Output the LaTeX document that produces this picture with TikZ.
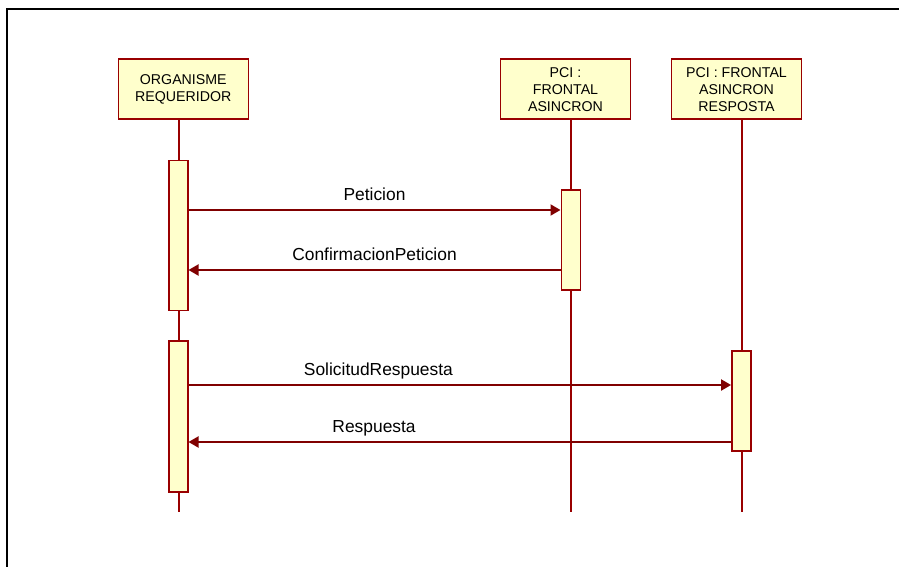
\documentclass[tikz,border=0pt]{standalone}
\usepackage{fontspec}
\setmainfont{Liberation Sans}
\usetikzlibrary{arrows.meta}
\definecolor{umlred}{RGB}{153,0,0}
\definecolor{umlline}{RGB}{128,0,0}
\definecolor{umlfill}{RGB}{255,255,204}
\tikzset{
  obj/.style={draw=umlred, fill=umlfill, line width=1.6pt, minimum width=130pt,
    minimum height=60pt, inner sep=0pt, align=center, font=\fontsize{14.2}{17}\selectfont},
  act/.style={draw=umlred, fill=umlfill, line width=1.4pt, minimum width=19pt, inner sep=0pt},
  life/.style={draw=umlred, line width=1.6pt},
  msg/.style={draw=umlline, line width=1.9pt, -{Triangle[length=10pt,width=11pt]}},
  lbl/.style={anchor=base, yshift=10pt, inner sep=0pt, font=\fontsize{17.4}{20}\selectfont}
}
\begin{document}
\begin{tikzpicture}[x=1pt,y=-1pt]
\useasboundingbox (0,0) rectangle (899,567);
\draw[line width=1.8pt] (7,567) -- (7,9) -- (899,9);
% objects
\node[obj] (org) at (183.3,89.2) {ORGANISME\\REQUERIDOR};
\node[obj] (pci) at (565.5,89.2) {PCI :\\FRONTAL\\ASINCRON};
\node[obj] (resp) at (736.5,89.2) {PCI : FRONTAL\\ASINCRON\\RESPOSTA};
% lifelines
\coordinate (e1) at (179,512);
\coordinate (e2) at (570.7,512);
\coordinate (e3) at (741.7,512);
\draw[life] (org.south -| e1) -- (e1);
\draw[life] (pci.south -| e2) -- (e2);
\draw[life] (resp.south -| e3) -- (e3);
% activations
\node[act, minimum height=150pt] (a1) at (178.3,235.2) {};
\node[act, minimum height=151pt] (a1b) at (178.3,416.5) {};
\node[act, minimum height=100pt] (a2) at (570.7,240) {};
\node[act, minimum height=100pt] (a3) at (741.3,401) {};
% messages
\draw[msg] (a1.east |- 0,210) -- node[lbl] {Peticion} (a2.west |- 0,210);
\draw[msg] (a2.west |- 0,270) -- node[lbl] {ConfirmacionPeticion} (a1.east |- 0,270);
\draw[msg] (a1b.east |- 0,385) -- node[lbl, pos=.35] {SolicitudRespuesta} (a3.west |- 0,385);
\draw[msg] (a3.west |- 0,442) -- node[lbl, pos=.658] {Respuesta} (a1b.east |- 0,442);
\end{tikzpicture}
\end{document}
